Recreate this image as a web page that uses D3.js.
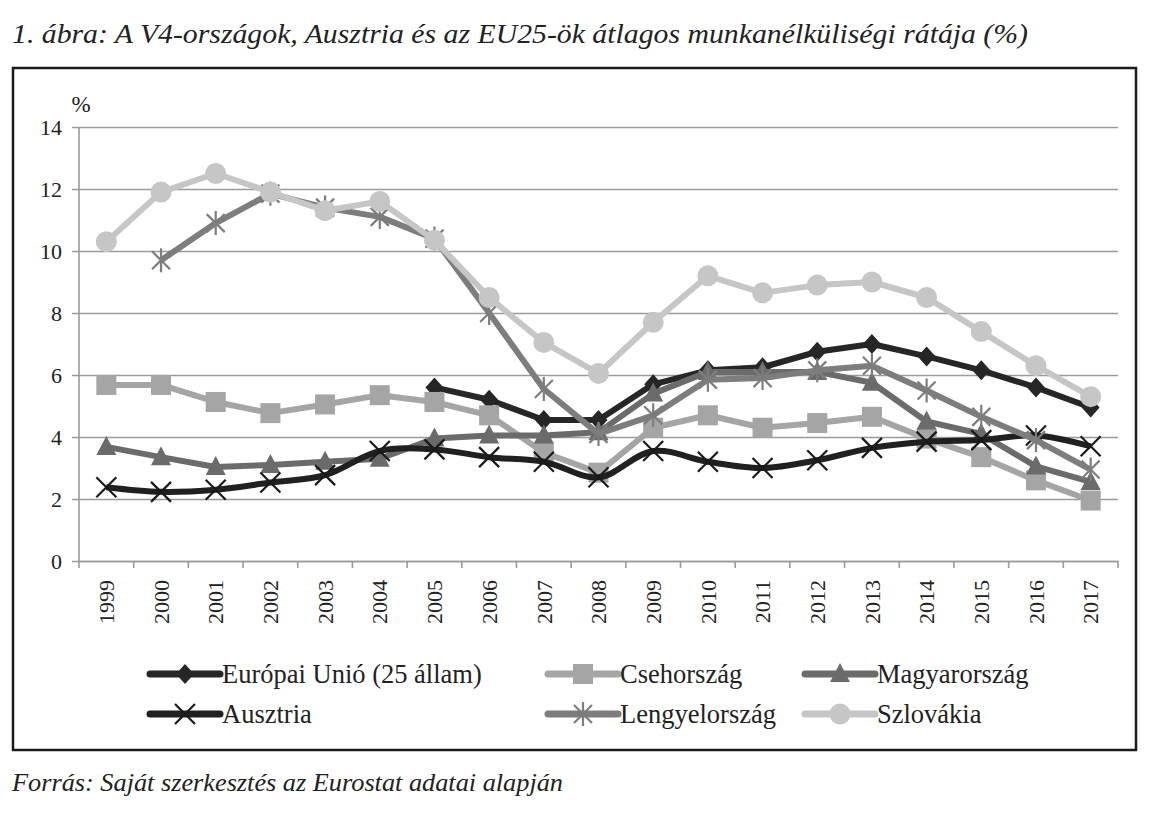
<!DOCTYPE html>
<html><head><meta charset="utf-8">
<script src="https://cdn.jsdelivr.net/npm/d3@7"></script>
<style>body{margin:0;background:#fff}svg{display:block}</style>
</head><body>
<script>
const years = ["1999","2000","2001","2002","2003","2004","2005","2006","2007","2008","2009","2010","2011","2012","2013","2014","2015","2016","2017"];
const yTicks = [0,2,4,6,8,10,12,14];
const eu      = [null,null,null,null,null,null,5.6,5.2,4.55,4.55,5.7,6.15,6.25,6.75,7.0,6.6,6.15,5.6,4.95];
const cseh    = [5.68,5.68,5.13,4.77,5.05,5.35,5.13,4.7,3.5,2.85,4.3,4.7,4.3,4.45,4.65,3.95,3.35,2.6,1.95];
const magyar  = [3.68,3.35,3.03,3.1,3.2,3.3,3.95,4.05,4.05,4.15,5.4,6.1,6.1,6.1,5.75,4.5,4.1,3.05,2.55];
const ausztria= [2.38,2.23,2.3,2.53,2.77,3.55,3.6,3.35,3.2,2.7,3.55,3.2,3.0,3.25,3.65,3.85,3.9,4.05,3.7];
const lengyel = [null,9.7,10.9,11.85,11.4,11.1,10.4,8.0,5.55,4.1,4.7,5.85,5.9,6.15,6.3,5.5,4.65,3.9,2.95];
const szlovak = [10.3,11.9,12.5,11.9,11.3,11.6,10.35,8.5,7.05,6.05,7.7,9.2,8.65,8.9,9.0,8.5,7.4,6.3,5.3];
const seriesNames = ["Európai Unió (25 állam)","Csehország","Magyarország","Ausztria","Lengyelország","Szlovákia"];

const series = [
  {name:seriesNames[0], values:eu, color:"#262626", marker:"diamond", smooth:false},
  {name:seriesNames[1], values:cseh, color:"#a5a5a5", marker:"square", smooth:false},
  {name:seriesNames[2], values:magyar, color:"#6b6b6b", marker:"triangle", smooth:false},
  {name:seriesNames[3], values:ausztria, color:"#202020", marker:"x", smooth:true},
  {name:seriesNames[4], values:lengyel, color:"#7d7d7d", marker:"star", smooth:false},
  {name:seriesNames[5], values:szlovak, color:"#c6c6c6", marker:"circle", smooth:false}
];

const W=1150,H=814;
const FF='"Liberation Serif"';
const svg=d3.select("body").append("svg").attr("width",W).attr("height",H);

svg.append("text").attr("x",12).attr("y",43).style("font-family",FF).style("font-style","italic")
  .attr("font-size",27).attr("fill","#222").attr("textLength",1016).attr("lengthAdjust","spacingAndGlyphs")
  .text("1. ábra: A V4-országok, Ausztria és az EU25-ök átlagos munkanélküliségi rátája (%)");
svg.append("text").attr("x",12).attr("y",791).style("font-family",FF).style("font-style","italic")
  .attr("font-size",25).attr("fill","#222").attr("textLength",551).attr("lengthAdjust","spacingAndGlyphs")
  .text("Forrás: Saját szerkesztés az Eurostat adatai alapján");

svg.append("rect").attr("x",13).attr("y",68).attr("width",1123).attr("height",682)
  .attr("fill","none").attr("stroke","#1a1a1a").attr("stroke-width",2.5);

const x=d3.scaleBand().domain(years).range([79,1118]).padding(0);
const y=d3.scaleLinear().domain([0,14]).range([561,127]);
const cx=d=>x(d)+x.bandwidth()/2;

const gy=svg.append("g").attr("transform","translate(79,0)")
  .call(d3.axisLeft(y).tickValues(yTicks).tickSize(-1039).tickSizeOuter(0).tickPadding(17));
gy.select(".domain").remove();
gy.selectAll(".tick line").attr("stroke","#9a9a9a").attr("stroke-width",1.6).attr("x1",-7);
gy.selectAll(".tick text").style("font-family",FF).attr("font-size",22).attr("fill","#222");
svg.append("line").attr("x1",79).attr("x2",79).attr("y1",127).attr("y2",561).attr("stroke","#9a9a9a").attr("stroke-width",1.6);

const gx=svg.append("g").attr("transform","translate(0,561)")
  .call(d3.axisBottom(x).tickSize(0).tickSizeOuter(0));
gx.select(".domain").attr("stroke","#9a9a9a").attr("stroke-width",1.6);
gx.selectAll(".tick text").style("font-family",FF).attr("font-size",22).attr("fill","#222")
  .attr("transform","rotate(-90)").attr("text-anchor","end").attr("x",-19).attr("y",0).attr("dy","0.35em");
const bounds=years.map(d=>x(d)).concat([x.range()[1]]);
svg.append("g").selectAll("line").data(bounds).join("line")
  .attr("x1",d=>d).attr("x2",d=>d).attr("y1",561).attr("y2",568).attr("stroke","#9a9a9a").attr("stroke-width",1.6);

svg.append("text").attr("x",81).attr("y",112).attr("text-anchor","middle").style("font-family",FF)
  .attr("font-size",23).attr("fill","#222").text("%");

function drawMarker(g,type,color){
  if(type==="diamond") g.append("path").attr("d","M0,-10L9,0L0,10L-9,0Z").attr("fill",color);
  else if(type==="square") g.append("rect").attr("x",-10).attr("y",-10).attr("width",20).attr("height",20).attr("fill",color);
  else if(type==="triangle") g.append("path").attr("d","M0,-11L10,8L-10,8Z").attr("fill",color);
  else if(type==="circle") g.append("circle").attr("r",10.5).attr("fill",color);
  else if(type==="x") g.append("path").attr("d","M-10,-10L10,10M-10,10L10,-10").attr("stroke","#1a1a1a").attr("stroke-width",2.2).attr("fill","none");
  else if(type==="star") g.append("path").attr("d","M0,-12L0,12M-9,-9L9,9M-9,9L9,-9").attr("stroke",color).attr("stroke-width",2.2).attr("fill","none");
}

const plot=svg.append("g");
series.forEach(s=>{
  const pts=years.map((yr,i)=>({yr,v:s.values[i]}));
  const line=d3.line().defined(d=>d.v!==null).x(d=>cx(d.yr)).y(d=>y(d.v))
    .curve(s.smooth?d3.curveCatmullRom.alpha(0.5):d3.curveLinear);
  plot.append("path").datum(pts).attr("d",line).attr("fill","none").attr("stroke",s.color)
    .attr("stroke-width",6).attr("stroke-linejoin","round");
  pts.filter(d=>d.v!==null).forEach(d=>{
    const g=plot.append("g").attr("transform",`translate(${cx(d.yr)},${y(d.v)})`);
    drawMarker(g,s.marker,s.color);
  });
});

const legPos=[[150,674],[548,674],[805,674],[150,714],[548,714],[805,714]];
series.forEach((s,i)=>{
  const [lx,ly]=legPos[i];
  const g=svg.append("g");
  g.append("line").attr("x1",lx).attr("x2",lx+70).attr("y1",ly).attr("y2",ly).attr("stroke",s.color).attr("stroke-width",7).attr("stroke-linecap","round");
  const mg=g.append("g").attr("transform",`translate(${lx+35},${ly})`);
  drawMarker(mg,s.marker,s.color);
  g.append("text").attr("x",lx+72).attr("y",ly).attr("dy","0.35em").style("font-family",FF)
    .attr("font-size",26.5).attr("fill","#222").text(s.name);
});
</script>
</body></html>
